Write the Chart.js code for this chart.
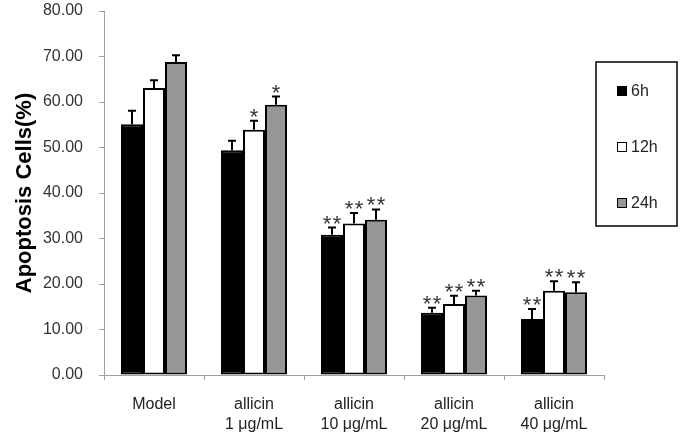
<!DOCTYPE html>
<html>
<head>
<meta charset="utf-8">
<script src="https://cdn.jsdelivr.net/npm/chart.js@4"></script>
<style>
html,body{margin:0;padding:0;background:#fff;}
#wrap{width:685px;height:438px;position:relative;}
</style>
</head>
<body>
<div id="wrap"><canvas id="c" width="685" height="438"></canvas></div>
<script>
const categories = [["Model"], ["allicin", "1 μg/mL"], ["allicin", "10 μg/mL"], ["allicin", "20 μg/mL"], ["allicin", "40 μg/mL"]];
const seriesLabels = ["6h", "12h", "24h"];
const values6h  = [55.1, 49.4, 30.8, 13.7, 12.3];
const values12h = [63.1, 53.9, 33.3, 15.6, 18.5];
const values24h = [68.8, 59.4, 34.1, 17.5, 18.2];
const errors6h  = [3.0, 2.1, 1.6, 1.1, 2.2];
const errors12h = [1.7, 2.0, 2.3, 1.8, 2.1];
const errors24h = [1.5, 1.8, 2.3, 1.0, 2.2];
const sig6h  = ["", "", "**", "**", "**"];
const sig12h = ["", "*", "**", "**", "**"];
const sig24h = ["", "*", "**", "**", "**"];
const yTicks = [0, 10, 20, 30, 40, 50, 60, 70, 80];

const errors = [errors6h, errors12h, errors24h];
const sigs = [sig6h, sig12h, sig24h];
const colors = ["#000000", "#ffffff", "#969696"];

const FONT = "'Liberation Sans', Arial, sans-serif";

const errorBarPlugin = {
  id: 'errorBars',
  afterDatasetsDraw(chart) {
    const ctx = chart.ctx;
    const y = chart.scales.y;
    ctx.save();
    chart.data.datasets.forEach((ds, i) => {
      const meta = chart.getDatasetMeta(i);
      meta.data.forEach((bar, j) => {
        const v = ds.data[j];
        const e = errors[i][j];
        const x = bar.x;
        const yTop = y.getPixelForValue(v + e);
        const yVal = y.getPixelForValue(v);
        ctx.strokeStyle = '#000';
        ctx.lineWidth = 2;
        ctx.beginPath();
        ctx.moveTo(x, yVal);
        ctx.lineTo(x, yTop);
        ctx.moveTo(x - 4, yTop);
        ctx.lineTo(x + 4, yTop);
        ctx.stroke();
        const s = sigs[i][j];
        if (s) {
          ctx.fillStyle = '#333';
          ctx.font = "22px " + FONT;
          ctx.textAlign = 'center';
          ctx.textBaseline = 'alphabetic';
          if (s.length === 1) {
            ctx.fillText('*', x, yTop + 3);
          } else {
            ctx.fillText('*', x - 5, yTop + 3);
            ctx.fillText('*', x + 5, yTop + 3);
          }
        }
      });
    });
    ctx.restore();
  }
};

const legendPlugin = {
  id: 'boxLegend',
  afterDraw(chart) {
    const ctx = chart.ctx;
    ctx.save();
    ctx.strokeStyle = '#000';
    ctx.lineWidth = 1.5;
    ctx.strokeRect(596, 62, 81, 164);
    const ys = [91, 147, 203];
    chart.data.datasets.forEach((ds, i) => {
      ctx.fillStyle = ds.backgroundColor;
      ctx.fillRect(617, ys[i] - 5, 10, 10);
      ctx.strokeStyle = '#000';
      ctx.lineWidth = 1;
      ctx.strokeRect(617.5, ys[i] - 4.5, 9, 9);
      ctx.fillStyle = '#222';
      ctx.font = "16px " + FONT;
      ctx.textAlign = 'left';
      ctx.textBaseline = 'middle';
      ctx.fillText(ds.label, 631, ys[i] + 1);
    });
    ctx.restore();
  }
};

const datasets = [values6h, values12h, values24h].map((vals, i) => ({
  label: seriesLabels[i],
  data: vals,
  backgroundColor: colors[i],
  borderColor: '#000',
  borderWidth: 2,
  borderSkipped: false,
  categoryPercentage: 0.66,
  barPercentage: 1.0
}));

new Chart(document.getElementById('c'), {
  type: 'bar',
  data: { labels: categories, datasets: datasets },
  options: {
    responsive: false,
    animation: false,
    layout: { padding: { top: 11, right: 81, bottom: 0, left: 0 } },
    plugins: { legend: { display: false }, tooltip: { enabled: false } },
    scales: {
      x: {
        grid: { drawOnChartArea: false, tickLength: 5, color: '#a0a0a0', offset: true },
        border: { color: '#a0a0a0', width: 1 },
        ticks: { color: '#222', font: { family: FONT, size: 16, lineHeight: 1.27 }, padding: 14, maxRotation: 0, autoSkip: false },
        afterFit(scale) { scale.height = 63; scale.paddingLeft = 0; scale.paddingRight = 0; }
      },
      y: {
        min: 0, max: 80,
        afterBuildTicks(scale) { scale.ticks = yTicks.map(v => ({ value: v })); },
        grid: { drawOnChartArea: false, tickLength: 5, color: '#a0a0a0' },
        border: { color: '#a0a0a0', width: 1 },
        ticks: { color: '#333', font: { family: FONT, size: 16 }, padding: 16, callback: v => Number(v).toFixed(2) },
        title: { display: true, text: 'Apoptosis Cells(%)', color: '#000', font: { family: FONT, size: 22, weight: 'bold' }, padding: { top: 12, bottom: 0 } },
        afterFit(scale) { scale.width = 104; scale.paddingTop = 0; scale.paddingBottom = 0; }
      }
    }
  },
  plugins: [errorBarPlugin, legendPlugin]
});
</script>
</body>
</html>
